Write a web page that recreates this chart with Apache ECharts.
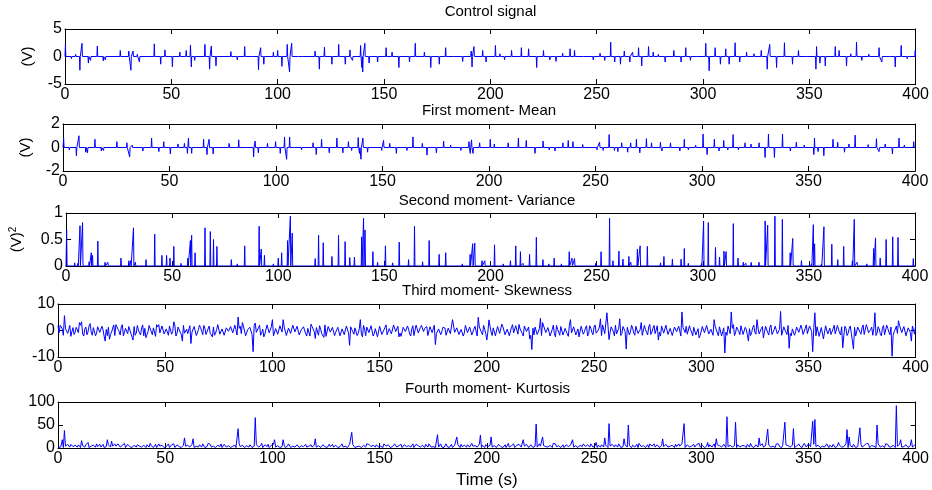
<!DOCTYPE html>
<html>
<head>
<meta charset="utf-8">
<title>Moments of the control signal</title>
<script src="https://cdn.jsdelivr.net/npm/echarts@6.0.0/dist/echarts.min.js"></script>
<style>
  html, body { margin: 0; padding: 0; background: #fff; }
  #chart { width: 932px; height: 490px; }
</style>
</head>
<body>
<div id="chart"></div>
<script>
// panel titles and axis ranges
const titles = ['Control signal', 'First moment- Mean', 'Second moment- Variance',
  'Third moment- Skewness', 'Fourth moment- Kurtosis']
const yNames = ['(V)', '(V)', '(V){sup|2}', '', '']
const yMin = [-5, -2, 0, -10, 0]
const yMax = [5, 2, 1, 10, 100]
const yStep = [5, 2, 0.5, 10, 50]

// spikes: [time (s), value], baseline 0 between them
const ctrlSpikes = [
  [0.2, 2.2], [3, -0.4], [5, 0.4], [7, -2.5], [8, 2.4], [11, -1.2], [12, -0.7], [15.2, 1.9], [18, -0.8], [19, -0.6],
  [26, 1.1], [30, 1.0], [31, -2.5], [32, 1.0], [34, 0.4], [35, -1.0], [42, 2.3], [45, -1.4], [47, 1.2], [50.5, -1.9],
  [54, 0.8], [57, 1.1], [59, 2.1], [59.4, -1.9], [61, -0.7], [65.8, 2.2], [68, -2.3], [68.8, 1.9], [71, -1.7], [78, 0.9],
  [81, -0.6], [84.5, 1.8], [88, 0.3], [91, -2.4], [92, 1.6], [93.5, -1.4], [98, 0.8], [100, 1.1], [102, -1.8], [104.5, 2.2],
  [105.6, -2.8], [106.6, 2.4], [110, -0.3], [112, 0.3], [117.6, 1.0], [119.6, -2.3], [122, 1.7], [125.5, -1.4], [128.7, 2.2], [131.8, -1.4],
  [134, 1.2], [135.2, -0.7], [139, 2.0], [139.6, -2.0], [140, -2.8], [141, 2.4], [143, -1.2], [147, -1.0], [151, 1.6], [153.8, 0.8],
  [157, -2.0], [162, -1.0], [164.7, 2.4], [169, 0.8], [172, -2.0], [176, -1.4], [179, 1.6], [183, 0.3], [187, -0.9], [191, 1.0],
  [191.4, -1.9], [192.3, 1.8], [196.4, 1.1], [198, -1.0], [202.4, 2.0], [204.5, 0.5], [206.7, -0.6], [210, 1.1], [214.6, 1.6], [218, 1.4],
  [221.8, -2.0], [225, 1.1], [228, -0.6], [230.9, -0.9], [234, 0.6], [237.5, 1.4], [239.6, 1.1], [244, 0.3], [248.4, -0.6], [251.6, 0.6],
  [253.8, -0.7], [256.6, 2.6], [258.5, -1.0], [261.2, -1.4], [263, 1.0], [265.6, -1.0], [266.9, 0.8], [269.7, 1.6], [271.2, -1.7], [274.4, 1.8],
  [276.6, 0.8], [279, 0.4], [282.2, -1.0], [286.3, 1.1], [289.7, -1.0], [291.9, 1.6], [294.1, -0.7], [297, 0.3], [301.3, 2.4], [302.9, -2.6],
  [305.7, 1.6], [308.2, -1.4], [310.7, 1.4], [312.3, -1.4], [315.1, 2.5], [317.3, -1.0], [320.5, 0.8], [324, 0.5], [327.4, 1.1], [330.2, -2.3],
  [331.4, 2.2], [334.6, -2.0], [338.3, 2.5], [342.1, -1.4], [344.9, 1.1], [349, 0.3], [353.1, -2.3], [353.4, 1.8], [355, -1.2], [357.5, -1.7],
  [362.2, 1.8], [364, 1.1], [367.5, -1.7], [369.5, 0.5], [372.2, 2.6], [374.7, -0.7], [378, 0.4], [382.8, 1.6], [384.1, -1.0], [388, 0.3],
  [390.4, -1.9], [393.2, 2.0], [396, -0.4], [399.8, 1.1]
]

const meanSpikes = [
  [0.3, 0.8], [3, -0.2], [6.3, -0.7], [7.5, 1.0], [10.7, -0.4], [11.5, -0.45], [15, 0.7], [18, -0.3], [19, -0.25], [25.3, 0.5],
  [30, 0.4], [31.3, -0.8], [32.5, 0.2], [37.5, -0.3], [41.6, 0.8], [45, -0.35], [47.3, 0.5], [50.4, -0.55], [54, 0.3], [57, 0.35],
  [58.4, -0.5], [58.9, 0.8], [60.4, -0.5], [66, 0.7], [67.6, -0.6], [68.6, 0.7], [70.5, -0.55], [78, 0.35], [81, -0.15], [82.5, 0.65],
  [89.5, -0.8], [90.2, 0.55], [91.7, -0.45], [96, 0.35], [99.8, 0.5], [102, -0.5], [104, 0.9], [105, -1.0], [106.4, 0.9], [109, -0.15],
  [112, -0.2], [117.4, 0.4], [118.9, -0.6], [121.4, 0.7], [125, -0.45], [128.6, 0.8], [131.4, -0.45], [134, 0.5], [135.5, -0.25], [138.6, 0.85],
  [139.2, -0.5], [139.9, -1.0], [140.8, 0.8], [143, -0.4], [149.6, -0.25], [150.5, 0.6], [153.4, 0.35], [156.5, -0.5], [161.5, -0.25], [164.3, 0.9],
  [168.7, 0.35], [170.9, -0.65], [175.3, -0.45], [178.7, 0.55], [182, 0.2], [186.8, -0.25], [190.6, 0.5], [191.2, -0.5], [191.8, 0.65], [192.5, -0.5],
  [195.6, 0.4], [200.6, 0.7], [202.5, 0.3], [205.3, -0.15], [209, 0.4], [213.8, 0.8], [217.5, 0.6], [221.6, -0.5], [225.4, 0.55], [228.3, -0.2],
  [231, -0.3], [234.7, 0.4], [237.2, 0.6], [239.4, 0.5], [244, 0.25], [250.7, -0.2], [251.9, 0.45], [253.6, -0.25], [256.4, 1.1], [258.9, -0.25],
  [260.5, -0.35], [262.3, 0.4], [265.1, -0.4], [266.5, 0.4], [269.2, 0.7], [270.8, -0.45], [273.9, 0.75], [276.3, 0.4], [280.5, 0.45], [281.2, -0.3],
  [285.2, 0.4], [289.6, -0.3], [291.7, 0.7], [293.6, -0.2], [297, 0.2], [300.5, 1.15], [302.4, -0.6], [305.8, 0.7], [308, -0.3], [310.2, 0.6],
  [312.1, -0.2], [314.6, 1.1], [317.1, -0.2], [320.2, 0.4], [323, 0.3], [326.8, 0.4], [329.6, -0.85], [331.2, 1.15], [334, -0.85], [337.8, 1.15],
  [341.5, -0.3], [344.3, 0.45], [348, 0.2], [352.5, -0.6], [352.8, 0.8], [354.5, -0.35], [357.2, -0.7], [361.5, 0.7], [363.7, 0.45], [366.9, -0.4],
  [369, 0.3], [371.9, 1.05], [374, -0.15], [378, 0.25], [381.9, 0.75], [383.1, -0.35], [386, 0.3], [389.4, -0.55], [392.5, 0.8], [395, 0.2],
  [399.4, 0.5]
]

const varSpikes = [
  [0.3, 0.68], [4.1, 0.06], [5.6, 0.05], [6.6, 0.76], [7.8, 0.82], [10.9, 0.08], [11.9, 0.25], [12.5, 0.2], [15, 0.47], [18.4, 0.07],
  [19.7, 0.07], [25.9, 0.15], [29.6, 0.1], [30.5, 0.1], [31.8, 0.72], [32.7, 0.07], [37.7, 0.12], [41.8, 0.6], [45.2, 0.2], [47.4, 0.2],
  [49, 0.15], [50.8, 0.37], [54.2, 0.05], [57.4, 0.15], [58.6, 0.48], [59.2, 0.58], [60.8, 0.25], [65.5, 0.72], [68, 0.65], [69.5, 0.5],
  [71.1, 0.37], [77.9, 0.12], [80.7, 0.04], [84.2, 0.38], [91, 0.75], [92, 0.32], [93.5, 0.2], [97.7, 0.04], [100, 0.15], [101.6, 0.25],
  [104.4, 0.48], [105.7, 0.94], [106.6, 0.62], [117.4, 0.14], [119, 0.58], [121.2, 0.44], [125.3, 0.18], [128.4, 0.58], [131.5, 0.46], [133.7, 0.16],
  [135.9, 0.17], [139.3, 0.55], [140.2, 0.9], [140.9, 0.68], [144.6, 0.27], [146.8, 0.07], [150.5, 0.38], [153.9, 0.06], [157, 0.45], [161.4, 0.12],
  [164.2, 0.75], [168, 0.08], [171.1, 0.48], [175.8, 0.22], [178.9, 0.25], [186.7, 0.04], [190.4, 0.22], [191.6, 0.42], [192.6, 0.43], [196, 0.1],
  [197.3, 0.1], [201.9, 0.4], [206, 0.04], [209.4, 0.1], [211.9, 0.38], [214.1, 0.27], [215.3, 0.05], [218.4, 0.22], [221.6, 0.54], [224.7, 0.12],
  [227.5, 0.04], [230, 0.15], [233.4, 0.04], [237.1, 0.27], [238.4, 0.15], [239.6, 0.14], [249.6, 0.05], [252.1, 0.27], [256.1, 0.9], [257.7, 0.1],
  [260.5, 0.28], [262.4, 0.13], [265.2, 0.18], [266.1, 0.07], [269.2, 0.32], [270.5, 0.38], [273.9, 0.37], [280.1, 0.06], [281.7, 0.18], [285.7, 0.13],
  [289.8, 0.13], [291.3, 0.33], [293.2, 0.05], [299.4, 0.05], [300.4, 0.85], [302.6, 0.82], [306, 0.35], [307.9, 0.17], [310, 0.28], [311, 0.27],
  [314.4, 0.8], [316.6, 0.15], [319.1, 0.07], [320.3, 0.05], [322.8, 0.07], [326.5, 0.07], [329.4, 0.85], [330.6, 0.77], [334, 0.94], [337.5, 0.88],
  [341.2, 0.25], [342.4, 0.52], [346.5, 0.1], [351.2, 0.04], [352.1, 0.78], [352.7, 0.42], [355.9, 0.04], [357.1, 0.74], [360.8, 0.41], [363.6, 0.12],
  [366.4, 0.37], [370.5, 0.1], [371.4, 0.88], [372.7, 0.07], [377.3, 0.04], [380.5, 0.33], [381.4, 0.53], [383.6, 0.15], [386.4, 0.5], [389.5, 0.55],
  [392, 0.54], [399.2, 0.14]
]

// skewness: values on the whole seconds (0..400) and on the half seconds (0.5..399.5)
const skewBase = [
  1.8, -1.2, 0.6, -2.0, 1.4, 0.2, -1.6, 1.1, -0.7, 1.9, -1.5, 0.4, -2.1, 1.3, -0.5, 1.7, -1.8, 0.9, -1.0, 2.0,
  -1.4, 0.3, 1.6, -1.9, 0.8, -0.6, 2.1, -1.3, 0.5, -1.7, 1.2, -2.2, 0.7, 1.5, -1.1, 0.2, -1.8, 1.9, -0.9, 1.0,
  -2.0, 1.4, -0.4, 1.8, -1.6, 0.6, -1.2, 2.2, -0.8, 1.1, -1.9, 0.3, 1.7, -1.4, 0.9, -2.1, 1.3, -0.6, 1.6, -1.0,
  0.5, -1.7, 2.0, -0.9, 1.2, -2.2, 0.8, -0.3, 1.9, -1.5, 0.6, -1.1, 2.1, -1.8, 0.4, 1.5, -1.3, 0.9, -2.0, 1.2,
  -0.7, 1.8, -1.4, 0.3, -1.9, 1.6, -0.5, 1.1, -2.1, 0.9, 1.4, -1.6, 0.2, -1.2, 2.0, -0.8, 1.3, -1.7, 0.6, -1.0,
  1.9, -1.3, 0.7, -2.0, 1.1, -0.4, 1.7, -1.5, 0.3, -1.8, 2.2, -0.9, 1.0, -1.4, 0.5, 1.6, -2.1, 0.8, -1.1, 1.4,
  -1.6, 0.4, 1.8, -1.2, 0.9, -2.2, 1.5, -0.6, 1.2, -1.9, 0.3, 1.7, -1.3, 0.8, -2.0, 1.1, -0.5, 1.9, -1.4, 0.6,
  -1.1, 2.0, -1.7, 0.5, 1.3, -0.8, 1.8, -2.1, 0.7, -1.0, 1.6, -1.5, 0.2, 2.1, -1.2, 0.9, -1.8, 1.4, -0.6, 1.0,
  -2.2, 1.2, -0.4, 1.7, -1.3, 0.6, -1.9, 2.0, -0.9, 1.1, -1.6, 0.8, 1.5, -2.0, 0.3, -1.1, 1.8, -1.4, 0.7, -0.5,
  1.6, -1.8, 0.9, -1.2, 2.1, -0.7, 1.0, -1.5, 0.4, -2.1, 1.9, -0.8, 1.3, -1.7, 0.6, 1.2, -1.0, 2.0, -1.6, 0.5,
  -1.3, 1.7, -0.6, 1.0, -2.0, 1.5, -1.1, 0.3, 1.8, -1.9, 0.7, -1.4, 2.2, -0.5, 1.1, -1.6, 0.9, -2.1, 1.3, -0.8,
  1.4, -0.3, -1.7, 1.9, -1.2, 0.8, -2.0, 1.6, -0.6, 1.2, -1.5, 2.0, -0.9, 0.4, -1.8, 1.7, -1.1, 0.6, -2.2, 1.5,
  -0.8, 1.1, -1.9, 0.5, 1.6, -1.4, 0.9, -2.1, 1.8, -0.7, 1.3, -1.0, 0.2, -1.6, 2.1, -1.2, 0.7, -1.8, 1.4, -0.4,
  2.0, -1.5, 0.6, -1.1, 1.7, -2.0, 1.2, -0.5, 0.9, -1.8, 1.5, -0.8, 2.2, -1.3, 0.4, -1.7, 1.0, -0.6, 1.9, -1.4,
  0.7, -2.1, 1.3, -0.4, 1.8, -1.2, 0.5, -1.6, 2.0, -0.9, 1.1, -1.9, 0.8, 1.6, -1.0, 0.3, -2.0, 1.5, -1.3, 0.9,
  -1.7, 1.2, -0.7, 2.1, -1.4, 0.6, -1.1, 1.9, -2.0, 0.8, -0.5, 1.4, -1.8, 1.0, -1.2, 2.2, -0.9, 0.5, -1.6, 1.7,
  -1.0, 0.4, 1.5, -1.9, 1.1, -0.6, 1.8, -1.3, 0.7, -2.1, 1.6, -0.8, 1.2, -1.5, 0.3, 1.9, -1.7, 0.9, -1.1, 2.0,
  -1.5, 0.8, -2.0, 1.3, -0.5, 1.7, -1.2, 0.6, -1.8, 2.1, -0.9, 1.0, -1.6, 0.4, 1.4, -2.2, 1.1, -0.7, 1.8, -1.3,
  0.9, -1.4, 2.0, -0.8, 1.2, -1.7, 0.5, 1.6, -1.9, 0.7, -1.1, 1.8, -2.1, 1.3, -0.6, 1.0, -1.5, 2.2, -0.9, 0.4,
  -1.8, 1.5, -1.0, 0.6, -2.0, 1.9, -1.2, 0.8, -1.6, 1.1, -0.4, 1.7, -1.3, 2.0, -0.7, 1.2, -1.9, 0.5, -1.1, 1.6,
  2.0
]
const skewHalf = [
  -0.9, 1.5, -1.8, 0.7, -1.1, 1.9, -0.4, -1.5, 1.2, -0.8, 2.0, -1.3, 0.5, -1.6, 1.8, -0.6, 1.1, -2.0, 1.4, -0.7,
  1.6, -2.1, 0.4, 1.2, -1.5, 0.9, -1.9, 1.7, -0.3, 1.3, -2.0, 0.8, -1.2, 1.9, -0.6, 1.5, -1.0, 0.2, -1.7, 2.1,
  0.8, -1.6, 1.9, -0.5, 1.0, -2.2, 1.4, -0.9, 1.7, -1.3, 0.6, -1.8, 1.2, -0.4, 2.0, -1.1, 0.7, -1.5, 1.9, -0.8,
  -1.2, 1.8, -0.6, 1.5, -1.9, 0.3, 1.1, -1.6, 0.9, -2.1, 1.7, -0.5, 1.3, -1.0, 2.2, -1.4, 0.6, -1.8, 1.0, -0.3,
  1.5, -0.9, 2.0, -1.7, 0.8, -1.2, 1.6, -2.0, 0.4, 1.2, -1.5, 1.9, -0.7, 1.1, -1.8, 0.5, -1.3, 2.1, -0.9, 1.4,
  -2.0, 0.7, -1.4, 1.8, -0.6, 1.3, -1.9, 0.9, -1.1, 2.0, -0.5, 1.6, -1.7, 0.3, 1.4, -1.2, 0.8, -2.1, 1.5, -0.4,
  1.1, -1.8, 0.5, -1.0, 2.1, -1.5, 0.8, -1.3, 1.9, -0.7, 1.2, -2.0, 0.6, -1.6, 1.7, -0.9, 1.4, -0.5, 1.0, -1.9,
  0.6, -1.4, 1.9, -2.0, 0.9, -0.5, 1.5, -1.1, 0.3, -1.8, 2.0, -0.8, 1.2, -1.6, 0.7, -1.3, 2.1, -0.4, 1.6, -1.0,
  -1.7, 1.3, -0.9, 0.5, -2.1, 1.8, -1.2, 0.7, -1.5, 1.9, -0.4, 1.1, -1.9, 1.4, -0.8, 2.0, -1.1, 0.6, -1.6, 1.2,
  0.9, -2.0, 1.5, -0.6, 1.7, -1.3, 0.4, -1.8, 1.1, -0.9, 2.1, -1.5, 0.8, -1.0, 1.6, -2.1, 1.3, -0.7, 1.9, -1.2,
  -0.5, 1.6, -1.9, 0.8, -1.3, 2.0, -0.7, 1.4, -1.6, 0.5, -2.0, 1.2, -0.9, 1.8, -1.4, 0.6, -1.1, 1.7, -0.4, 1.3,
  -1.8, 0.9, 1.3, -1.5, 0.6, -1.9, 1.7, -0.8, 1.1, -2.1, 0.4, -1.2, 1.9, -0.6, 1.5, -1.7, 0.8, -1.3, 2.0, -0.9,
  1.4, -1.7, 0.6, -2.0, 1.2, -0.5, 1.8, -1.1, 0.9, -1.6, 2.1, -0.8, 1.3, -1.9, 0.5, -1.4, 1.7, -0.6, 1.0, -2.0,
  -1.3, 0.8, -1.9, 1.5, -0.4, 1.2, -1.7, 2.0, -0.9, 1.6, -1.1, 0.3, -1.8, 1.9, -0.7, 1.4, -1.5, 0.9, -1.2, 1.8,
  -0.6, 1.7, -1.0, 2.0, -1.5, 0.8, -1.9, 1.3, -0.5, 1.6, -2.1, 1.1, -0.8, -1.4, 1.8, -0.6, 1.2, -1.7, 0.7, -1.9,
  1.5, -0.8, 1.9, -1.3, 0.5, -1.8, 1.6, -0.9, 1.4, -2.0, 1.0, -0.6, 1.7, -1.2, 0.8, -1.9, 1.3, -0.4, 1.8, -1.5,
  1.2, -1.6, 0.7, -0.8, 2.0, -1.4, 0.9, -1.9, 1.5, -0.5, 1.1, -1.7, 2.1, -0.9, 1.6, -1.3, 0.4, -1.8, 1.4, -0.7,
  1.9, -1.1, 0.6, -1.8, 1.3, -0.7, 2.0, -1.5, 0.8, -1.2, 1.7, -0.4, 1.1, -2.0, 0.9, -1.6, 1.5, -0.6, 1.2, -1.9,
  -1.5, 0.6, -1.3, 1.9, -0.9, 1.4, -2.0, 0.8, -1.1, 1.7, -0.5, 1.2, -1.8, 0.7, -1.4, 2.1, -0.9, 1.0, -1.6, 1.3,
  0.7, -1.9, 1.4, -1.2, 0.9, -1.6, 2.0, -0.6, 1.3, -1.8, 0.5, -1.1, 1.9, -0.8, 1.5, -2.0, 1.0, -0.7, 1.7, -1.4
]
const skewSpikes = [
  [1, 2.0], [2.5, 5.6], [6, -2.2], [10, 3.0], [11, 3.3], [14.6, 2.6], [22, -4.0], [24.3, -3.3], [27.4, 2.2], [30, 2.2],
  [34.8, -3.6], [41, -2.7], [46, 2.2], [53.5, 3.3], [58.2, -4.0], [62.2, -4.9], [65.5, 2.0], [72, -2.4], [83.6, 5.1], [86.4, 3.0],
  [90.8, -8.0], [92, 2.8], [95.8, -2.4], [99.8, 4.1], [104.5, 4.1], [110, 2.2], [117.5, 2.4], [119.7, -3.0], [124, -2.6], [131.8, -2.6],
  [136.2, -5.6], [140.5, 4.1], [142.4, -2.4], [148.5, -2.4], [159, -2.4], [170, 2.0], [176, -5.3], [184.3, 4.1], [196.1, 5.0], [200, -3.6],
  [201, 4.0], [207.3, 2.4], [214.8, 2.3], [219.5, -3.2], [221.3, -7.2], [224.7, 4.6], [226, 3.0], [232.2, -2.4], [239.3, 4.1], [243.3, -2.4],
  [253, 4.4], [256, 6.7], [257, -3.4], [262, 4.4], [265.1, -7.0], [272, 3.0], [275.7, 2.3], [279.7, -3.6], [291.2, 7.0], [299.3, -2.8],
  [305.5, 4.1], [310.8, -8.5], [314.2, 7.0], [322.3, -4.0], [326, 4.1], [329.1, -2.8], [337.2, 7.2], [341.2, -6.7], [352.1, -8.0], [353, 6.7],
  [356.5, -3.2], [366.1, -6.5], [371.4, -7.0], [381, 6.7], [389.1, -9.7], [392.2, 3.7], [398.4, -4.0], [399.4, 2.4]
]

// kurtosis: values on the whole seconds (0..400) and on the half seconds (0.5..399.5)
const kurtBase = [
  4, 1, 7, 2, 5, 9, 1, 3, 6, 2, 8, 1, 4, 7, 2, 5, 1, 9, 3, 6,
  2, 8, 1, 5, 3, 7, 1, 4, 9, 2, 6, 1, 3, 8, 2, 5, 1, 7, 4, 2,
  6, 1, 3, 8, 2, 5, 1, 9, 3, 6, 2, 4, 1, 7, 5, 2, 8, 1, 3, 6,
  1, 5, 2, 9, 1, 4, 7, 2, 6, 1, 3, 8, 2, 5, 1, 6, 9, 2, 4, 1,
  7, 2, 4, 1, 8, 3, 6, 1, 5, 2, 9, 1, 3, 7, 2, 4, 1, 6, 8, 2,
  3, 6, 1, 5, 2, 8, 1, 4, 7, 2, 5, 1, 9, 3, 1, 6, 2, 4, 7, 1,
  5, 1, 8, 2, 4, 6, 1, 3, 9, 2, 5, 1, 7, 2, 4, 1, 8, 3, 6, 2,
  2, 7, 1, 4, 9, 1, 3, 6, 2, 5, 1, 8, 2, 4, 7, 1, 3, 9, 2, 5,
  6, 2, 4, 1, 7, 3, 1, 8, 5, 2, 6, 1, 4, 9, 2, 3, 1, 7, 5, 2,
  1, 9, 3, 5, 1, 6, 2, 4, 8, 1, 3, 7, 2, 5, 1, 9, 4, 2, 6, 1,
  8, 1, 4, 2, 6, 1, 9, 3, 5, 1, 7, 2, 4, 1, 6, 8, 2, 3, 1, 5,
  3, 5, 1, 7, 2, 4, 1, 8, 6, 2, 3, 1, 9, 4, 2, 5, 1, 7, 3, 6,
  1, 4, 8, 2, 5, 1, 3, 7, 2, 9, 1, 4, 6, 2, 3, 1, 8, 5, 2, 4,
  7, 2, 5, 1, 3, 9, 1, 4, 6, 2, 8, 1, 3, 5, 1, 7, 2, 4, 9, 1,
  4, 1, 6, 3, 8, 1, 2, 5, 7, 1, 4, 9, 2, 3, 6, 1, 5, 2, 8, 3,
  2, 6, 1, 4, 7, 2, 9, 1, 3, 5, 1, 8, 4, 2, 6, 1, 3, 7, 2, 5,
  5, 1, 9, 2, 4, 1, 6, 3, 8, 2, 5, 1, 7, 4, 1, 3, 9, 2, 6, 1,
  3, 8, 2, 5, 1, 7, 4, 1, 6, 2, 9, 3, 1, 5, 2, 8, 1, 4, 6, 2,
  6, 2, 4, 1, 9, 3, 5, 1, 7, 2, 4, 8, 1, 3, 6, 2, 5, 1, 9, 3,
  1, 7, 3, 6, 2, 4, 1, 8, 5, 1, 3, 6, 2, 9, 1, 4, 7, 2, 5, 1,
  4
]
const kurtHalf = [
  2, 6, 1, 4, 8, 2, 5, 1, 3, 7, 1, 5, 2, 9, 1, 4, 6, 2, 3, 8,
  5, 1, 3, 7, 2, 4, 9, 1, 6, 2, 5, 1, 8, 3, 1, 6, 2, 4, 7, 1,
  3, 7, 2, 5, 1, 8, 2, 4, 6, 1, 3, 9, 2, 5, 1, 7, 3, 1, 6, 4,
  6, 2, 8, 1, 4, 2, 5, 9, 1, 3, 7, 2, 4, 1, 6, 3, 1, 8, 2, 5,
  1, 4, 6, 2, 9, 1, 3, 5, 2, 7, 1, 4, 8, 2, 5, 1, 7, 3, 1, 6,
  8, 2, 5, 1, 3, 6, 2, 9, 1, 4, 2, 7, 1, 5, 3, 8, 1, 4, 2, 6,
  2, 5, 1, 7, 3, 1, 8, 4, 2, 6, 1, 3, 9, 1, 5, 2, 4, 7, 1, 3,
  4, 1, 6, 2, 5, 8, 1, 3, 7, 2, 4, 1, 9, 2, 5, 3, 1, 6, 2, 8,
  1, 7, 3, 5, 2, 9, 1, 4, 6, 1, 3, 8, 2, 5, 1, 7, 4, 2, 9, 1,
  5, 3, 1, 8, 2, 4, 7, 1, 3, 6, 2, 9, 1, 4, 5, 2, 8, 1, 3, 7,
  3, 6, 2, 5, 1, 8, 3, 1, 7, 4, 2, 5, 9, 1, 3, 6, 2, 4, 8, 1,
  7, 1, 4, 2, 9, 1, 5, 3, 2, 6, 1, 8, 3, 5, 1, 7, 2, 4, 1, 9,
  2, 5, 1, 6, 3, 8, 1, 4, 9, 2, 5, 1, 3, 7, 2, 6, 1, 4, 8, 2,
  4, 9, 1, 3, 7, 2, 5, 1, 8, 3, 1, 6, 2, 9, 4, 1, 5, 3, 2, 7,
  1, 5, 3, 8, 2, 4, 6, 1, 3, 9, 2, 5, 1, 7, 2, 4, 8, 1, 6, 2,
  6, 1, 4, 2, 9, 3, 1, 7, 5, 2, 8, 1, 3, 6, 2, 5, 1, 9, 4, 1,
  3, 8, 2, 4, 1, 7, 2, 5, 9, 1, 3, 6, 2, 4, 1, 8, 3, 1, 5, 7,
  5, 2, 6, 1, 4, 9, 1, 3, 7, 2, 5, 1, 8, 3, 6, 1, 4, 2, 9, 1,
  2, 8, 1, 4, 6, 2, 3, 9, 1, 5, 2, 7, 1, 4, 8, 2, 3, 6, 1, 5,
  4, 1, 9, 2, 5, 1, 7, 3, 2, 6, 1, 4, 8, 2, 3, 7, 1, 5, 2, 6
]
const kurtSpikes = [
  [2, 18], [2.5, 38], [6, 8], [10.8, 16], [14, 12], [18, 9], [22.5, 18], [25.3, 15], [31, 10], [36, 10],
  [43, 10], [48.5, 10], [54, 9], [58.7, 22], [62.6, 20], [70, 10], [76, 9], [84.3, 42], [91.5, 66], [95, 10],
  [101, 18], [104.9, 18], [112, 8], [120.4, 20], [128, 8], [136.6, 34], [145, 8], [152, 9], [160, 8], [167, 8],
  [177.2, 29], [185.5, 24], [193, 10], [197.2, 28], [202.2, 24], [210, 10], [216.7, 18], [222.8, 52], [225.6, 24], [231, 10],
  [240, 18], [245, 9], [251, 12], [254.5, 22], [257.3, 53], [264, 20], [266.2, 50], [271, 10], [276, 9], [281.8, 20],
  [288, 8], [292.4, 53], [299, 10], [303, 12], [307.4, 20], [312.4, 68], [316.3, 56], [323, 10], [326.9, 22], [330.8, 41],
  [335, 9], [338.6, 56], [343, 42], [348, 10], [352, 58], [353, 62], [359, 10], [364, 12], [367.5, 40], [369, 24],
  [373.6, 44], [377, 10], [382, 50], [386, 9], [391.4, 92], [393, 18], [398, 18]
]

// impulse trace: baseline 0, each spike drawn as a thin vertical stroke
function impulses(spikes) {
  const s = spikes.slice().sort((a, b) => a[0] - b[0])
  const pts = [[0, 0]]
  s.forEach(([t, v]) => { pts.push([t - 0.2, 0], [t, v], [t + 0.2, 0]) })
  pts.push([400, 0])
  return pts
}

// sampled trace: whole and half second values interleaved, peaks at their nearest second
function sampled(base, half, spikes) {
  const d = base.slice()
  spikes.forEach(([t, v]) => { d[Math.round(t)] = v })
  const pts = []
  d.forEach((v, i) => {
    pts.push([i, v])
    if (i < half.length) pts.push([i + 0.5, half[i]])
  })
  return pts
}

const seriesData = [
  impulses(ctrlSpikes),
  impulses(meanSpikes),
  impulses(varSpikes),
  sampled(skewBase, skewHalf, skewSpikes),
  sampled(kurtBase, kurtHalf, kurtSpikes),
]

const grids = [
  { left: 65, top: 29, right: 16, height: 55 },
  { left: 63, top: 124, right: 17, height: 47 },
  { left: 59, top: 213, right: 17, height: 53 },
  { left: 58, top: 304, right: 16, height: 53 },
  { left: 58, top: 402, right: 15, height: 50 },
]
const titleY = [12, 111, 201, 291, 389]
const yNameGap = [30, 30, 40, 34, 34]

const font = '"Liberation Sans", Arial, sans-serif'
const black = '#000'
const tick = { inside: true, length: 5, lineStyle: { color: black, width: 1 } }
const line = { show: true, onZero: false, lineStyle: { color: black, width: 1 } }

const xAxis = []
const yAxis = []
const series = []
const graphic = []

grids.forEach((g, i) => {
  xAxis.push({
    type: 'value', gridIndex: i, position: 'bottom', min: 0, max: 400, interval: 50,
    axisLine: line, axisTick: tick, splitLine: { show: false },
    axisLabel: { color: black, fontSize: 16, fontFamily: font, margin: 3, showMinLabel: true, showMaxLabel: true },
    name: i === 4 ? 'Time (s)' : '', nameLocation: 'middle', nameGap: 24,
    nameTextStyle: { color: black, fontSize: 17, fontFamily: font },
  })
  xAxis.push({
    type: 'value', gridIndex: i, position: 'top', min: 0, max: 400, interval: 50,
    axisLine: line, axisTick: tick, axisLabel: { show: false }, splitLine: { show: false },
  })
  yAxis.push({
    type: 'value', gridIndex: i, position: 'left', min: yMin[i], max: yMax[i], interval: yStep[i],
    axisLine: line, axisTick: tick, splitLine: { show: false },
    axisLabel: { color: black, fontSize: 16, fontFamily: font, margin: 3, showMinLabel: true, showMaxLabel: true },
    name: yNames[i], nameLocation: 'middle', nameGap: yNameGap[i], nameRotate: 90,
    nameTextStyle: {
      color: black, fontSize: 15, fontFamily: font,
      rich: { sup: { fontSize: 10, verticalAlign: 'top', color: black, fontFamily: font, padding: [0, 0, 8, 0] } },
    },
  })
  yAxis.push({
    type: 'value', gridIndex: i, position: 'right', min: yMin[i], max: yMax[i], interval: yStep[i],
    axisLine: line, axisTick: tick, axisLabel: { show: false }, splitLine: { show: false },
  })
  series.push({
    type: 'line', xAxisIndex: 2 * i, yAxisIndex: 2 * i, data: seriesData[i],
    showSymbol: false, symbol: 'none', clip: true, sampling: 'none',
    lineStyle: { color: '#0000ff', width: 1 }, z: 1,
  })
  graphic.push({
    type: 'text', x: g.left + (932 - g.left - g.right) / 2, y: titleY[i],
    style: { text: titles[i], fill: black, font: '15px ' + font, align: 'center', verticalAlign: 'middle' },
  })
})

const chart = echarts.init(document.getElementById('chart'), null, { renderer: 'canvas' })
chart.setOption({
  animation: false,
  backgroundColor: '#fff',
  grid: grids.map(g => Object.assign({ containLabel: false, show: false }, g)),
  xAxis, yAxis, series, graphic,
})
</script>
</body>
</html>
